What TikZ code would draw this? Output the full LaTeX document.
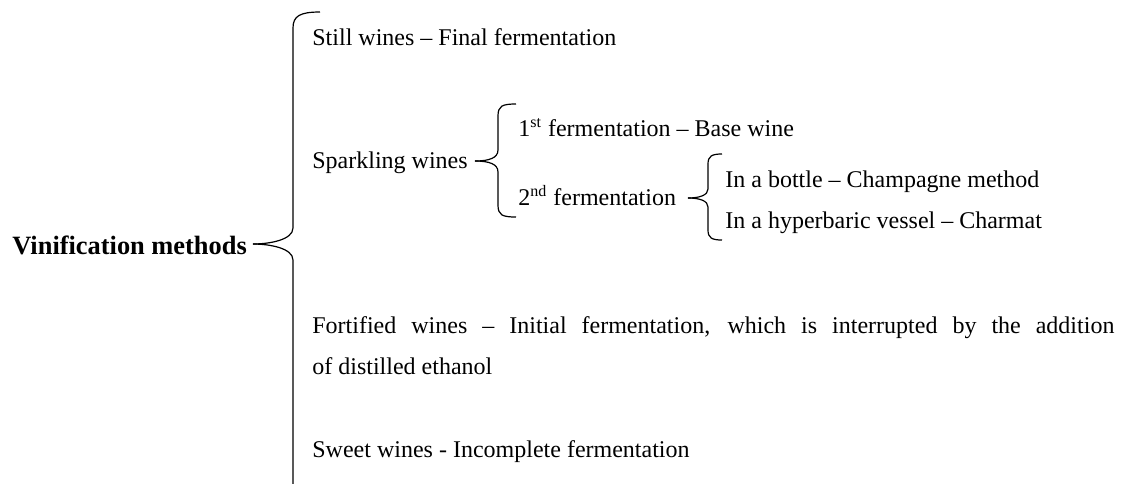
\documentclass[tikz,border=0pt]{standalone}
\usepackage{fontspec}
\setmainfont{Liberation Serif}
\tikzstyle{entry}=[inner sep=0pt, anchor=base west, font=\fontsize{12}{20.5}\selectfont]
\tikzstyle{heading}=[inner sep=0pt, anchor=base west, font=\fontsize{13.2}{16}\selectfont\bfseries]
\tikzstyle{bracepath}=[draw=black, line width=0.6pt]
\begin{document}
\begin{tikzpicture}[x=0.5pt, y=-0.5pt]
	\useasboundingbox (0,0) rectangle (1121,483);
	\begin{scope}
		\node (vin) at (12,254)[heading] {Vinification methods};
		\node (still) at (312,45)[entry] {Still wines -- Final fermentation};
		\node (spark) at (312,168)[entry] {Sparkling wines};
		\node (first) at (518,136)[entry] {1\textsuperscript{st} fermentation -- Base wine};
		\node (second) at (518,205)[entry] {2\textsuperscript{nd} fermentation};
		\node (bottle) at (725,187)[entry] {In a bottle -- Champagne method};
		\node (vessel) at (725,228)[entry] {In a hyperbaric vessel -- Charmat};
		\node (fort) at (312,333)[entry, text width=401pt, align=justify] {Fortified wines -- Initial fermentation, which is interrupted by the addition\linebreak of distilled ethanol};
		\node (sweet) at (312,457)[entry] {Sweet wines - Incomplete fermentation};
	\end{scope}
	\begin{scope}
		\coordinate (mtop) at (320,12);
		\coordinate (mtip) at (253,244);
		\coordinate (mbot) at (293,484);
		\coordinate (stop) at (516,104);
		\coordinate (stip) at (475,161);
		\coordinate (sbot) at (516,217);
		\coordinate (btop) at (722,154);
		\coordinate (btip) at (688,198);
		\coordinate (bbot) at (722,240);
		\draw[bracepath] (mtop) .. controls +(-20,0) and +(0,-12) .. (293,28) -- (293,228) .. controls +(0,12) and +(16,0) .. (mtip);
		\draw[bracepath] (mtip) .. controls +(16,0) and +(0,-12) .. (293,260) -- (mbot);
		\draw[bracepath] (stop) .. controls +(-14,0) and +(0,-10) .. (498,116) -- (498,150) .. controls +(0,8) and +(14,0) .. (stip);
		\draw[bracepath] (stip) .. controls +(14,0) and +(0,-8) .. (498,172) -- (498,205) .. controls +(0,10) and +(-14,0) .. (sbot);
		\draw[bracepath] (btop) .. controls +(-10,0) and +(0,-8) .. (708,164) -- (708,189) .. controls +(0,6) and +(12,0) .. (btip);
		\draw[bracepath] (btip) .. controls +(12,0) and +(0,-6) .. (708,207) -- (708,230) .. controls +(0,8) and +(-10,0) .. (bbot);
	\end{scope}
\end{tikzpicture}
\end{document}
